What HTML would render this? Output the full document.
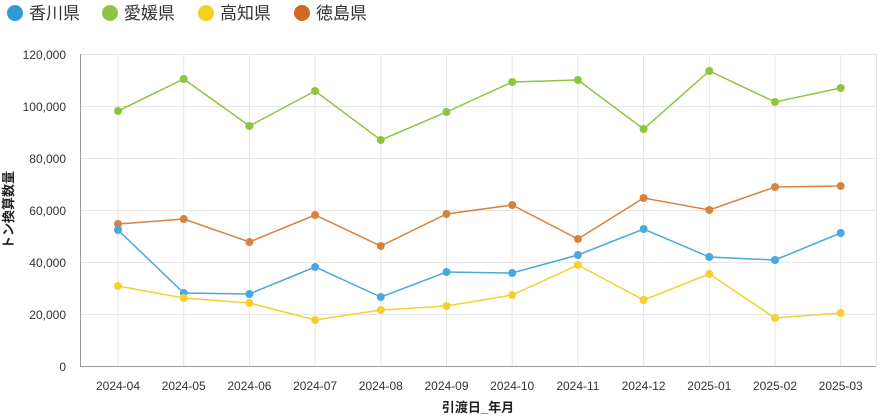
<!DOCTYPE html><html><head><meta charset="utf-8"><style>body{margin:0;background:#fff}svg{display:block;font-family:"Liberation Sans","Noto Sans CJK JP",sans-serif}</style></head><body>
<svg width="881" height="417" xmlns="http://www.w3.org/2000/svg">
<g font-size="17" fill="#333">
<circle cx="15" cy="13" r="8" fill="#3399d6"/><text x="29" y="19">香川県</text>
<circle cx="110" cy="13" r="8" fill="#8cc63f"/><text x="124" y="19">愛媛県</text>
<circle cx="206" cy="13" r="8" fill="#f5d020"/><text x="220" y="19">高知県</text>
<circle cx="302" cy="13" r="8" fill="#d2691e"/><text x="316" y="19">徳島県</text>
</g>
<g stroke="#e6e6e6" stroke-width="1">
<line x1="81" x2="876" y1="54.5" y2="54.5"/><line x1="81" x2="876" y1="106.5" y2="106.5"/><line x1="81" x2="876" y1="158.5" y2="158.5"/><line x1="81" x2="876" y1="210.5" y2="210.5"/><line x1="81" x2="876" y1="262.5" y2="262.5"/><line x1="81" x2="876" y1="314.5" y2="314.5"/>
<line x1="876.5" x2="876.5" y1="54" y2="366"/>
</g>
<g id="vg" stroke="#e6e6e6"></g>
<line x1="80.5" x2="80.5" y1="54" y2="366" stroke="#999"/>
<line x1="80" x2="876" y1="366.5" y2="366.5" stroke="#999"/>
<g font-size="12" fill="#333" text-anchor="end">
<text x="66" y="59">120,000</text><text x="66" y="111">100,000</text><text x="66" y="163">80,000</text><text x="66" y="215">60,000</text><text x="66" y="267">40,000</text><text x="66" y="319">20,000</text><text x="66" y="371">0</text>
</g>
<g id="xl" font-size="12" fill="#333" text-anchor="middle"></g>
<text x="478" y="412" font-size="13" font-weight="bold" text-anchor="middle" fill="#222">引渡日_年月</text>
<text transform="translate(13,210) rotate(-90)" font-size="13" font-weight="bold" text-anchor="middle" fill="#222">トン換算数量</text>
<g id="series"></g>
<script>
var xs=[],labs=["2024-04","2024-05","2024-06","2024-07","2024-08","2024-09","2024-10","2024-11","2024-12","2025-01","2025-02","2025-03"];
for(var i=0;i<12;i++)xs.push(118+i*65.7);
var ns="http://www.w3.org/2000/svg",vg=document.getElementById("vg"),xl=document.getElementById("xl");
xs.forEach(function(x,i){var l=document.createElementNS(ns,"line");l.setAttribute("x1",x);l.setAttribute("x2",x);l.setAttribute("y1",54);l.setAttribute("y2",366);vg.appendChild(l);
var t=document.createElementNS(ns,"text");t.setAttribute("x",x);t.setAttribute("y",390);t.textContent=labs[i];xl.appendChild(t);});
var S=[["#8cc63f",[111,79,126,91,140,112,82,80,129,71,102,88]],["#d9823f",[224,219,242,215,246,214,205,239,198,210,187,186]],["#4aa8dc",[230,293,294,267,297,272,273,255,229,257,260,233]],["#f5d030",[286,298,303,320,310,306,295,265,300,274,318,313]]];
var g=document.getElementById("series");
S.forEach(function(s){var p=document.createElementNS(ns,"polyline");p.setAttribute("points",xs.map(function(x,i){return x+","+s[1][i]}).join(" "));p.setAttribute("fill","none");p.setAttribute("stroke",s[0]);p.setAttribute("stroke-width","1.5");g.appendChild(p);
xs.forEach(function(x,i){var c=document.createElementNS(ns,"circle");c.setAttribute("cx",x);c.setAttribute("cy",s[1][i]);c.setAttribute("r",4);c.setAttribute("fill",s[0]);g.appendChild(c);});});
</script>
</svg></body></html>
